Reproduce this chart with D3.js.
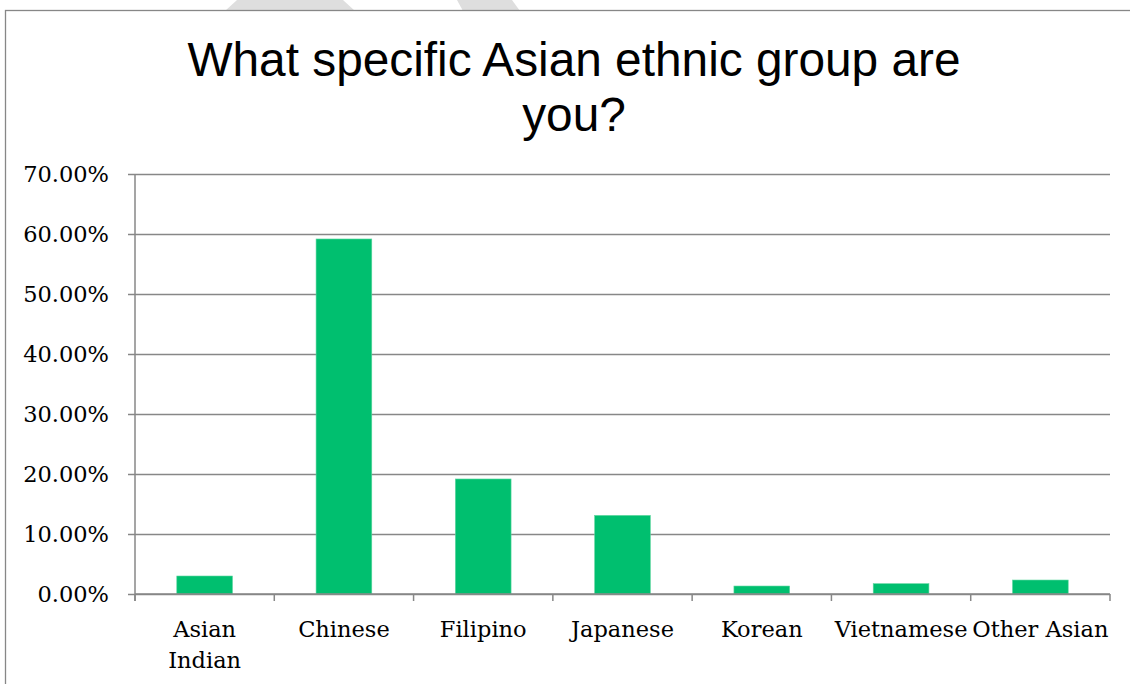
<!DOCTYPE html>
<html>
<head>
<meta charset="utf-8">
<script src="https://cdn.jsdelivr.net/npm/d3@7"></script>
<style>
  body { margin: 0; background: #fff; }
  svg { display: block; }
</style>
</head>
<body>
<div id="chart"></div>
<script>
// données du graphique
const categories = ["Asian Indian", "Chinese", "Filipino", "Japanese", "Korean", "Vietnamese", "Other Asian"];
const values = [0.030, 0.5917, 0.1917, 0.131, 0.0133, 0.0172, 0.0233];
const yTicks = [0, 0.1, 0.2, 0.3, 0.4, 0.5, 0.6, 0.7];
const titleLines = ["What specific Asian ethnic group are", "you?"];

let width = 1130;
let height = 684;

let svg = d3.select("#chart")
  .append("svg")
  .attr("width", width)
  .attr("height", height);

// formes grises en haut (filigrane)
svg.append("polygon")
  .attr("points", "225,11 355,11 343,0 237,0")
  .style("fill", "#dedede");
svg.append("polygon")
  .attr("points", "463,11 520,11 512,0 457,0")
  .style("fill", "#dedede");

// cadre
svg.append("rect")
  .attr("x", 5.5)
  .attr("y", 10.5)
  .attr("width", 1140)
  .attr("height", 700)
  .style("fill", "#fff")
  .style("stroke", "#878787")
  .style("stroke-width", 1.3);

// titre
svg.append("text")
  .attr("x", 574)
  .attr("y", 76)
  .style("font-family", "'Liberation Sans', Arial, sans-serif")
  .style("font-size", "47.8px")
  .style("fill", "#000")
  .style("text-anchor", "middle")
  .selectAll("tspan")
  .data(titleLines)
  .join("tspan")
  .attr("x", 574)
  .attr("dy", (d, i) => i === 0 ? 0 : 55)
  .text(d => d);

let plotLeft = 135, plotRight = 1110, plotTop = 174, plotBottom = 594;

let x = d3.scaleBand()
  .domain(categories)
  .range([plotLeft, plotRight])
  .paddingInner(0.6)
  .paddingOuter(0.3);

let y = d3.scaleLinear()
  .domain([0, 0.7])
  .range([plotBottom, plotTop]);

const labelFont = "'DejaVu Serif', serif";

// lignes de grille
let grid = svg.append("g")
  .attr("transform", "translate(" + plotLeft + ",0)")
  .call(d3.axisLeft(y).tickValues(yTicks).tickSize(-(plotRight - plotLeft)).tickFormat(""));
grid.select(".domain").remove();
grid.selectAll("line").style("stroke", "#878787").style("stroke-width", 1.5);

// axe des y
let yAxis = svg.append("g")
  .attr("transform", "translate(" + plotLeft + ",0)")
  .call(d3.axisLeft(y).tickValues(yTicks).tickSize(7).tickPadding(19).tickFormat(d3.format(".2%")));
yAxis.select(".domain").attr("d", "M0," + plotTop + "V" + (plotBottom + 7))
  .style("stroke", "#878787").style("stroke-width", 1.5);
yAxis.selectAll("line").style("stroke", "#878787").style("stroke-width", 1.5);
yAxis.selectAll("text")
  .style("font-family", labelFont)
  .style("font-size", "22.5px")
  .style("fill", "#000");

// barres
svg.append("g")
  .selectAll("rect")
  .data(values)
  .join("rect")
  .attr("x", (d, i) => x(categories[i]))
  .attr("y", d => y(d))
  .attr("width", x.bandwidth())
  .attr("height", d => y(0) - y(d))
  .style("fill", "#00bf6f")
  .style("stroke", "#5fd6a0")
  .style("stroke-width", 0.6);

// axe des x
svg.append("line")
  .attr("x1", plotLeft).attr("x2", plotRight)
  .attr("y1", y(0)).attr("y2", y(0))
  .style("stroke", "#878787").style("stroke-width", 1.5);

let step = x.step();
svg.append("g")
  .selectAll("line")
  .data(d3.range(categories.length + 1))
  .join("line")
  .attr("x1", i => plotLeft + i * step)
  .attr("x2", i => plotLeft + i * step)
  .attr("y1", y(0))
  .attr("y2", y(0) + 7)
  .style("stroke", "#878787").style("stroke-width", 1.5);

// étiquettes des catégories (retour à la ligne si trop large)
let labels = svg.append("g")
  .selectAll("text")
  .data(categories)
  .join("text")
  .attr("x", d => x(d) + x.bandwidth() / 2)
  .attr("y", 637)
  .style("font-family", labelFont)
  .style("font-size", "22.5px")
  .style("fill", "#000")
  .style("text-anchor", "middle")
  .text(d => d);

labels.each(function (d) {
  let t = d3.select(this);
  if (this.getComputedTextLength() > step) {
    let words = d.split(" ");
    let cx = x(d) + x.bandwidth() / 2;
    t.text(null);
    words.forEach((w, i) => {
      t.append("tspan").attr("x", cx).attr("dy", i === 0 ? 0 : 31).text(w);
    });
  }
});
</script>
</body>
</html>
